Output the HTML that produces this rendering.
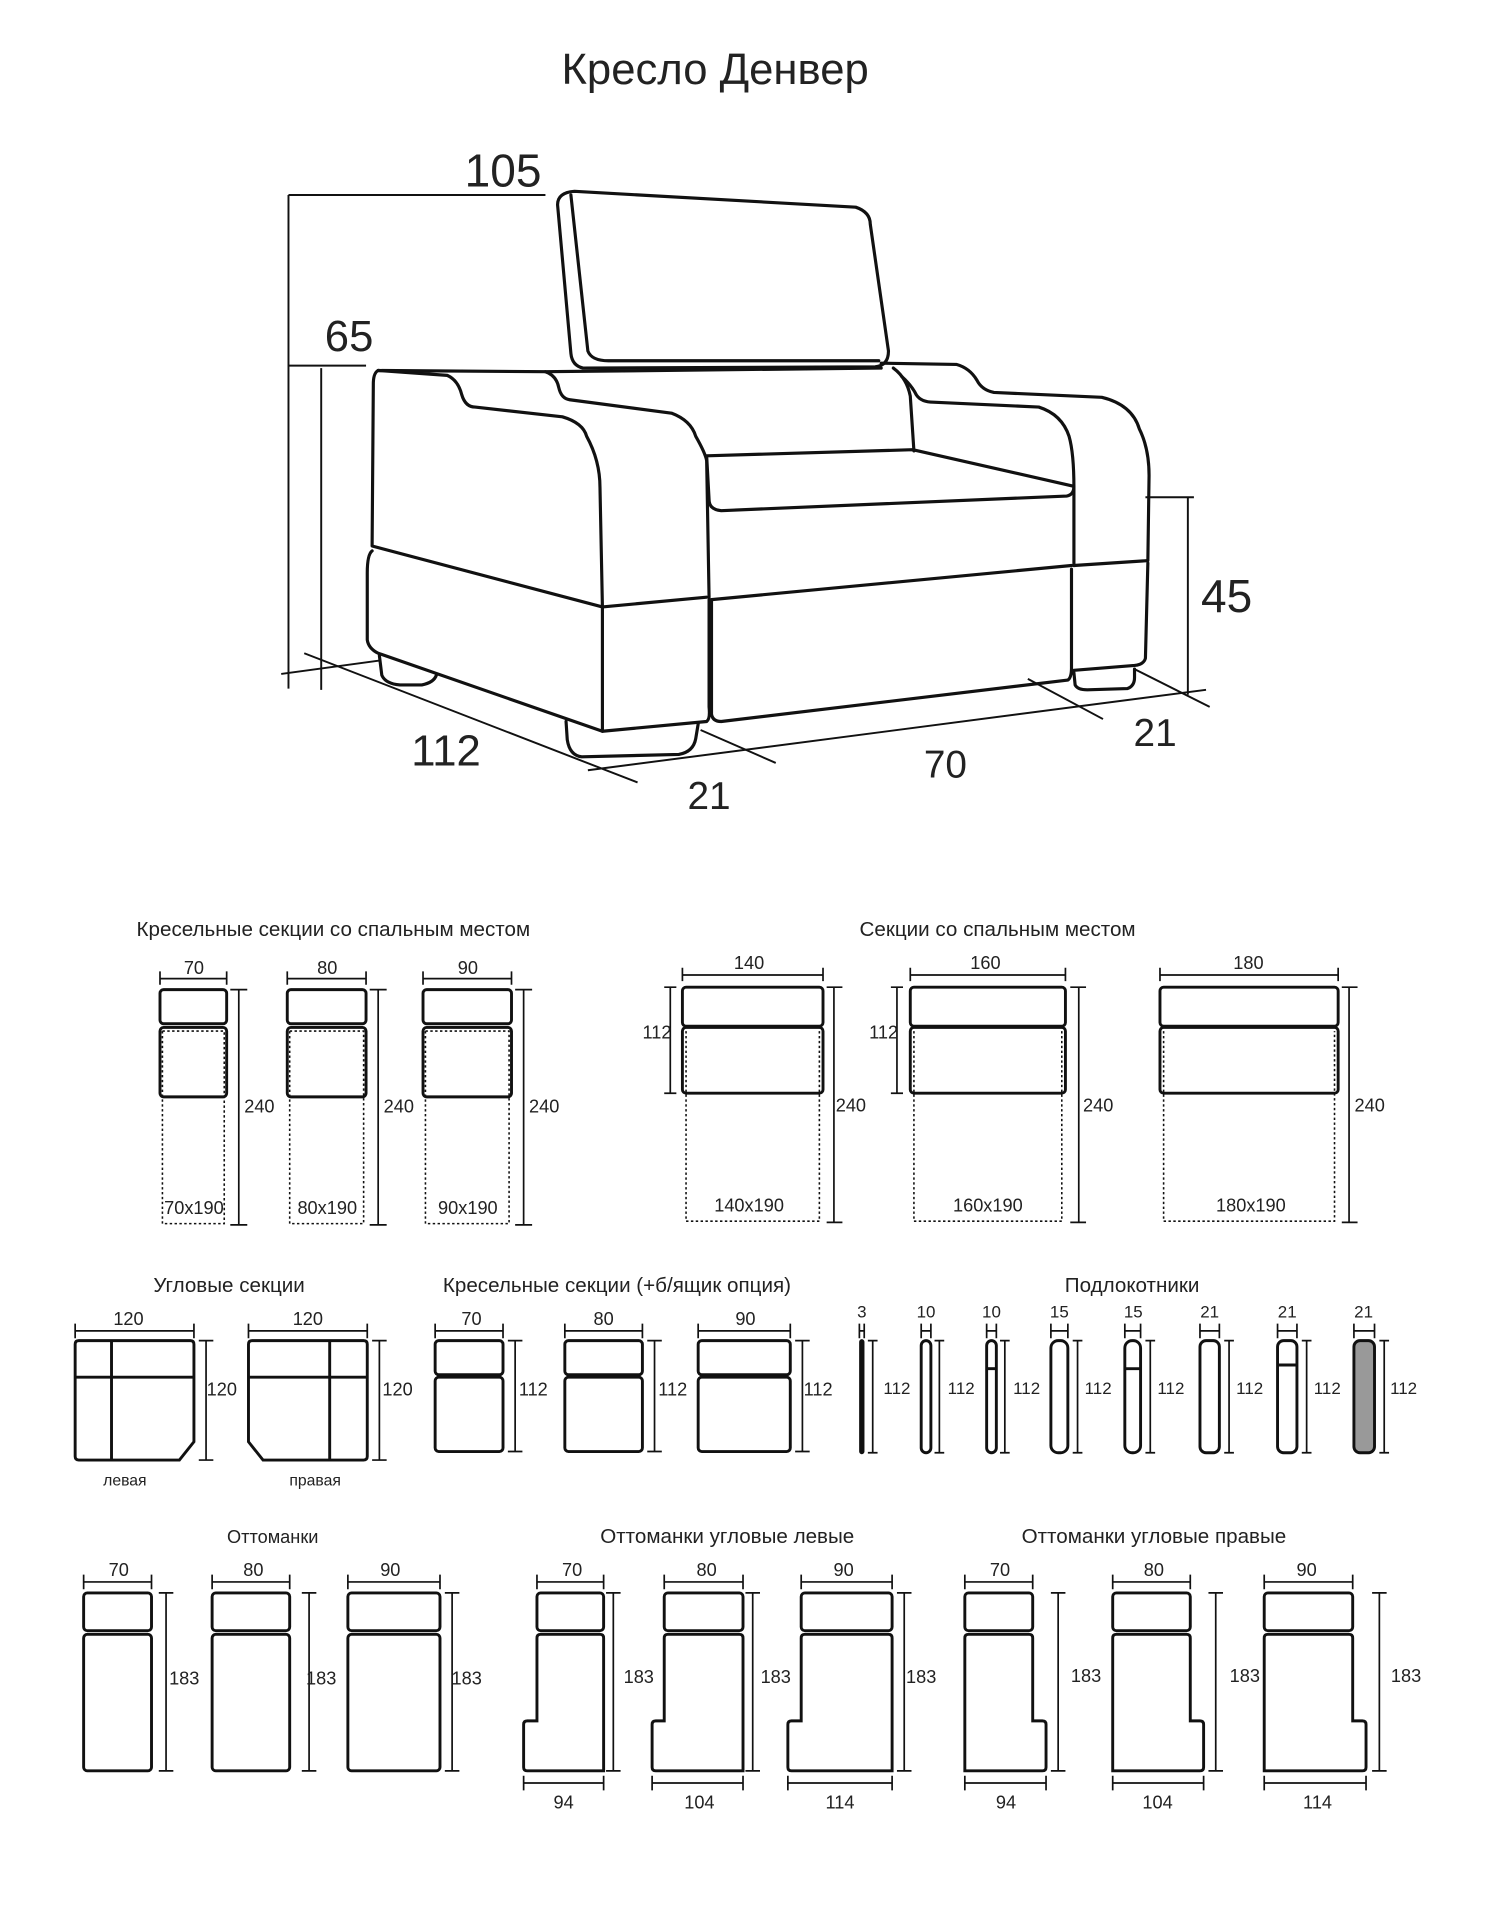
<!DOCTYPE html>
<html><head><meta charset="utf-8"><style>
html,body{margin:0;padding:0;background:#fff}
svg{display:block}
text{font-family:"Liberation Sans","DejaVu Sans",sans-serif;fill:#222}
</style></head><body>
<svg width="1503" height="1911" viewBox="0 0 1240 1568" preserveAspectRatio="none" xmlns="http://www.w3.org/2000/svg">
<g fill="none" stroke="#111" stroke-width="2.6" stroke-linejoin="round" stroke-linecap="round">
<path d="M474,157 L706,170 Q718,174 718,184 L733,288 Q733,300 722,301 L481,302 Q472,300 471,290 L460,168 Q460,158 474,157 Z"/>
<path d="M471,160 L485,288 Q488,296 502,296 L725,296"/>
<path d="M312,304 L369,308 Q378,312 381,324 Q384,334 392,334 L464,342 Q481,347 484,358 Q495,378 495,400 L497,498"/>
<path d="M312,304 Q308,306 308,315 L307,448 L497,498 L583,490"/>
<path d="M312,304 L450,305 Q459,308 461,318 Q463,327 470,328 L554,339 Q570,345 574,358 Q582,372 583,378 L585,490"/>
<path d="M450,305 L727,302"/>
<path d="M727,298 L789,299 Q800,302 806,312 Q810,320 820,322 L909,326 Q934,332 940,352 Q948,368 948,390 L947,460 L886,464"/>
<path d="M737,302 Q748,310 751,325 L754,370"/>
<path d="M744,309 Q752,316 756,324 Q760,330 770,330 L857,334 Q876,340 882,358 Q886,372 886,400 L886,464"/>
<path d="M583,374 L753,369 L886,399 Q886,406 880,407 L595,419 Q585,418 585,410 L583,374"/>
<path d="M587,492 L884,464"/>
<path d="M307,452 Q303,455 303,470 L303,525 Q304,532 312,536 L497,600 L583,592 Q586,590 585,580 L585,492"/>
<path d="M497,498 L497,600"/>
<path d="M587,492 L587,586 Q588,592 595,592 L881,558 Q884,556 884,548 L884,467"/>
<path d="M947,462 L945,540 Q944,545 936,546 L886,550"/>
<path d="M313,538 L315,554 Q318,561 330,562 L348,562 Q358,560 360,554"/>
<path d="M467,592 L468,607 Q470,620 480,621 L560,619 Q572,617 574,606 L576,594"/>
<path d="M886,552 L887,562 Q889,566 897,566 L930,565 Q936,563 936,556 L936,549"/>
</g>
<g fill="none" stroke="#111" stroke-width="1.6">
<line x1="238" y1="160" x2="238" y2="565"/><line x1="238" y1="160" x2="450" y2="160"/>
<line x1="238" y1="300" x2="302" y2="300"/><line x1="265" y1="302" x2="265" y2="566"/>
<line x1="945" y1="408" x2="985" y2="408"/><line x1="980" y1="408" x2="980" y2="570"/>
<line x1="232" y1="553" x2="313" y2="542"/>
<line x1="251" y1="536" x2="526" y2="642"/>
<line x1="485" y1="632" x2="995" y2="566"/>
<line x1="578" y1="599" x2="640" y2="626"/>
<line x1="848" y1="557" x2="910" y2="590"/>
<line x1="936" y1="549" x2="998" y2="580"/>
</g>
<text x="590" y="69" font-size="36" text-anchor="middle">Кресло  Денвер</text>
<text x="415" y="153" font-size="38" text-anchor="middle">105</text>
<text x="288" y="288" font-size="36" text-anchor="middle">65</text>
<text x="1012" y="502" font-size="38" text-anchor="middle">45</text>
<text x="368" y="628" font-size="36" text-anchor="middle">112</text>
<text x="585" y="664" font-size="32" text-anchor="middle">21</text>
<text x="780" y="638" font-size="32" text-anchor="middle">70</text>
<text x="953" y="612" font-size="32" text-anchor="middle">21</text>

<g font-size="17" text-anchor="middle">
<text x="275" y="768">Кресельные секции со спальным местом</text>
<text x="823" y="768">Секции со спальным местом</text>
<text x="189" y="1060">Угловые секции</text>
<text x="509" y="1060">Кресельные секции (+б/ящик опция)</text>
<text x="934" y="1060">Подлокотники</text>
<text x="225" y="1266" font-size="15">Оттоманки</text>
<text x="600" y="1266">Оттоманки угловые левые</text>
<text x="952" y="1266">Оттоманки угловые правые</text>
</g>

<g fill="none" stroke="#111">
<g stroke-width="2.4">
<rect x="132" y="812" width="55" height="28" rx="3"/><rect x="132" y="843" width="55" height="57" rx="3"/>
<rect x="237" y="812" width="65" height="28" rx="3"/><rect x="237" y="843" width="65" height="57" rx="3"/>
<rect x="349" y="812" width="73" height="28" rx="3"/><rect x="349" y="843" width="73" height="57" rx="3"/>
<rect x="563" y="810" width="116" height="32" rx="3"/><rect x="563" y="843" width="116" height="54" rx="3"/>
<rect x="751" y="810" width="128" height="32" rx="3"/><rect x="751" y="843" width="128" height="54" rx="3"/>
<rect x="957" y="810" width="147" height="32" rx="3"/><rect x="957" y="843" width="147" height="54" rx="3"/>
</g>
<g stroke-width="1.3" stroke-dasharray="2,2">
<path d="M134,846 V1004 H185 V846 H134"/>
<path d="M239,846 V1004 H300 V846 H239"/>
<path d="M351,846 V1004 H420 V846 H351"/>
<path d="M566,846 V1002 H676 V846"/>
<path d="M754,846 V1002 H876 V846"/>
<path d="M960,846 V1002 H1101 V846"/>
</g>
<g stroke-width="1.4">
<path d="M132,797 V808 M187,797 V808 M132,803 H187"/>
<path d="M237,797 V808 M302,797 V808 M237,803 H302"/>
<path d="M349,797 V808 M422,797 V808 M349,803 H422"/>
<path d="M190,812 H204 M197,812 V1005 M190,1005 H204"/>
<path d="M305,812 H319 M312,812 V1005 M305,1005 H319"/>
<path d="M425,812 H439 M432,812 V1005 M425,1005 H439"/>
<path d="M563,794 V805 M679,794 V805 M563,800 H679"/>
<path d="M751,794 V805 M879,794 V805 M751,800 H879"/>
<path d="M957,794 V805 M1104,794 V805 M957,800 H1104"/>
<path d="M548,810 H558 M553,810 V897 M548,897 H558"/>
<path d="M735,810 H745 M740,810 V897 M735,897 H745"/>
<path d="M682,810 H695 M688,810 V1003 M682,1003 H695"/>
<path d="M883,810 H896 M890,810 V1003 M883,1003 H896"/>
<path d="M1107,810 H1120 M1113,810 V1003 M1107,1003 H1120"/>
</g>
</g>
<g font-size="15" text-anchor="middle">
<text x="160" y="799">70</text><text x="270" y="799">80</text><text x="386" y="799">90</text>
<text x="214" y="913">240</text><text x="329" y="913">240</text><text x="449" y="913">240</text>
<text x="160" y="996">70x190</text><text x="270" y="996">80x190</text><text x="386" y="996">90x190</text>
<text x="618" y="795">140</text><text x="813" y="795">160</text><text x="1030" y="795">180</text>
<text x="542" y="852">112</text><text x="729" y="852">112</text>
<text x="702" y="912">240</text><text x="906" y="912">240</text><text x="1130" y="912">240</text>
<text x="618" y="994">140x190</text><text x="815" y="994">160x190</text><text x="1032" y="994">180x190</text>
</g>

<g fill="none" stroke="#111">
<g stroke-width="2.4">
<path d="M65,1100 H157 Q160,1100 160,1103 V1183 L148,1198 H65 Q62,1198 62,1195 V1103 Q62,1100 65,1100 Z"/>
<path d="M92,1100 V1198 M92,1130 H160 M62,1130 H92"/>
<path d="M208,1100 H300 Q303,1100 303,1103 V1195 Q303,1198 300,1198 H217 L205,1183 V1103 Q205,1100 208,1100 Z"/>
<path d="M272,1100 V1198 M205,1130 H272 M272,1130 H303"/>
<rect x="359" y="1100" width="56" height="28" rx="3"/><rect x="359" y="1130" width="56" height="61" rx="3"/>
<rect x="466" y="1100" width="64" height="28" rx="3"/><rect x="466" y="1130" width="64" height="61" rx="3"/>
<rect x="576" y="1100" width="76" height="28" rx="3"/><rect x="576" y="1130" width="76" height="61" rx="3"/>
<rect x="710" y="1100" width="2" height="92" rx="1"/>
<rect x="760" y="1100" width="8" height="92" rx="4"/>
<rect x="814" y="1100" width="8" height="92" rx="4"/><path d="M814,1123 H822"/>
<rect x="867" y="1100" width="14" height="92" rx="6"/>
<rect x="928" y="1100" width="13" height="92" rx="6"/><path d="M928,1123 H941"/>
<rect x="990" y="1100" width="16" height="92" rx="5"/>
<rect x="1054" y="1100" width="16" height="92" rx="5"/><path d="M1054,1120 H1070"/>
<rect x="1117" y="1100" width="17" height="92" rx="5" fill="#999"/>
</g>
<g stroke-width="1.4">
<path d="M62,1086 V1098 M160,1086 V1098 M62,1092 H160"/>
<path d="M205,1086 V1098 M303,1086 V1098 M205,1092 H303"/>
<path d="M164,1100 H176 M170,1100 V1198 M164,1198 H176"/>
<path d="M307,1100 H319 M313,1100 V1198 M307,1198 H319"/>
<path d="M359,1086 V1098 M415,1086 V1098 M359,1092 H415"/>
<path d="M466,1086 V1098 M530,1086 V1098 M466,1092 H530"/>
<path d="M576,1086 V1098 M652,1086 V1098 M576,1092 H652"/>
<path d="M419,1100 H431 M425,1100 V1191 M419,1191 H431"/>
<path d="M534,1100 H546 M540,1100 V1191 M534,1191 H546"/>
<path d="M656,1100 H668 M662,1100 V1191 M656,1191 H668"/>
<path d="M709,1086 V1098 M713,1086 V1098 M709,1092 H713 M716,1100 H724 M720,1100 V1192 M716,1192 H724"/>
<path d="M760,1086 V1098 M768,1086 V1098 M760,1092 H768 M771,1100 H779 M775,1100 V1192 M771,1192 H779"/>
<path d="M814,1086 V1098 M822,1086 V1098 M814,1092 H822 M825,1100 H833 M829,1100 V1192 M825,1192 H833"/>
<path d="M867,1086 V1098 M881,1086 V1098 M867,1092 H881 M885,1100 H893 M889,1100 V1192 M885,1192 H893"/>
<path d="M928,1086 V1098 M941,1086 V1098 M928,1092 H941 M945,1100 H953 M949,1100 V1192 M945,1192 H953"/>
<path d="M990,1086 V1098 M1006,1086 V1098 M990,1092 H1006 M1010,1100 H1018 M1014,1100 V1192 M1010,1192 H1018"/>
<path d="M1054,1086 V1098 M1070,1086 V1098 M1054,1092 H1070 M1074,1100 H1082 M1078,1100 V1192 M1074,1192 H1082"/>
<path d="M1117,1086 V1098 M1134,1086 V1098 M1117,1092 H1134 M1138,1100 H1146 M1142,1100 V1192 M1138,1192 H1146"/>
</g>
</g>
<g font-size="15" text-anchor="middle">
<text x="106" y="1087">120</text><text x="254" y="1087">120</text>
<text x="183" y="1145">120</text><text x="328" y="1145">120</text>
<text x="103" y="1219" font-size="13">левая</text><text x="260" y="1219" font-size="13">правая</text>
<text x="389" y="1087">70</text><text x="498" y="1087">80</text><text x="615" y="1087">90</text>
<text x="440" y="1145">112</text><text x="555" y="1145">112</text><text x="675" y="1145">112</text>
<g font-size="14">
<text x="711" y="1081">3</text><text x="764" y="1081">10</text><text x="818" y="1081">10</text><text x="874" y="1081">15</text>
<text x="935" y="1081">15</text><text x="998" y="1081">21</text><text x="1062" y="1081">21</text><text x="1125" y="1081">21</text>
<text x="740" y="1144">112</text><text x="793" y="1144">112</text><text x="847" y="1144">112</text><text x="906" y="1144">112</text>
<text x="966" y="1144">112</text><text x="1031" y="1144">112</text><text x="1095" y="1144">112</text><text x="1158" y="1144">112</text>
</g>
</g>

<g fill="none" stroke="#111">
<g stroke-width="2.4">
<rect x="69" y="1307" width="56" height="31" rx="3"/><rect x="69" y="1341" width="56" height="112" rx="3"/>
<rect x="175" y="1307" width="64" height="31" rx="3"/><rect x="175" y="1341" width="64" height="112" rx="3"/>
<rect x="287" y="1307" width="76" height="31" rx="3"/><rect x="287" y="1341" width="76" height="112" rx="3"/>
<rect x="443" y="1307" width="55" height="31" rx="3"/><path d="M446,1341 H495 Q498,1341 498,1344 V1453 H435 Q432,1453 432,1450 V1415 Q432,1412 435,1412 H443 V1344 Q443,1341 446,1341 Z"/>
<rect x="548" y="1307" width="65" height="31" rx="3"/><path d="M551,1341 H610 Q613,1341 613,1344 V1453 H541 Q538,1453 538,1450 V1415 Q538,1412 541,1412 H548 V1344 Q548,1341 551,1341 Z"/>
<rect x="661" y="1307" width="75" height="31" rx="3"/><path d="M664,1341 H733 Q736,1341 736,1344 V1453 H653 Q650,1453 650,1450 V1415 Q650,1412 653,1412 H661 V1344 Q661,1341 664,1341 Z"/>
<rect x="796" y="1307" width="56" height="31" rx="3"/><path d="M799,1341 H849 Q852,1341 852,1344 V1412 H860 Q863,1412 863,1415 V1450 Q863,1453 860,1453 H796 V1344 Q796,1341 799,1341 Z"/>
<rect x="918" y="1307" width="64" height="31" rx="3"/><path d="M921,1341 H979 Q982,1341 982,1344 V1412 H990 Q993,1412 993,1415 V1450 Q993,1453 990,1453 H918 V1344 Q918,1341 921,1341 Z"/>
<rect x="1043" y="1307" width="73" height="31" rx="3"/><path d="M1046,1341 H1113 Q1116,1341 1116,1344 V1412 H1124 Q1127,1412 1127,1415 V1450 Q1127,1453 1124,1453 H1043 V1344 Q1043,1341 1046,1341 Z"/>
</g>
<g stroke-width="1.4">
<path d="M69,1292 V1304 M125,1292 V1304 M69,1298 H125 M131,1307 H143 M137,1307 V1453 M131,1453 H143"/>
<path d="M175,1292 V1304 M239,1292 V1304 M175,1298 H239 M249,1307 H261 M255,1307 V1453 M249,1453 H261"/>
<path d="M287,1292 V1304 M363,1292 V1304 M287,1298 H363 M367,1307 H379 M373,1307 V1453 M367,1453 H379"/>
<path d="M443,1292 V1304 M498,1292 V1304 M443,1298 H498 M500,1307 H512 M506,1307 V1453 M500,1453 H512"/>
<path d="M548,1292 V1304 M613,1292 V1304 M548,1298 H613 M615,1307 H627 M621,1307 V1453 M615,1453 H627"/>
<path d="M661,1292 V1304 M736,1292 V1304 M661,1298 H736 M740,1307 H752 M746,1307 V1453 M740,1453 H752"/>
<path d="M796,1292 V1304 M852,1292 V1304 M796,1298 H852 M867,1307 H879 M873,1307 V1453 M867,1453 H879"/>
<path d="M918,1292 V1304 M982,1292 V1304 M918,1298 H982 M997,1307 H1009 M1003,1307 V1453 M997,1453 H1009"/>
<path d="M1043,1292 V1304 M1116,1292 V1304 M1043,1298 H1116 M1132,1307 H1144 M1138,1307 V1453 M1132,1453 H1144"/>
<path d="M432,1457 V1469 M498,1457 V1469 M432,1463 H498"/>
<path d="M538,1457 V1469 M613,1457 V1469 M538,1463 H613"/>
<path d="M650,1457 V1469 M736,1457 V1469 M650,1463 H736"/>
<path d="M796,1457 V1469 M863,1457 V1469 M796,1463 H863"/>
<path d="M918,1457 V1469 M993,1457 V1469 M918,1463 H993"/>
<path d="M1043,1457 V1469 M1127,1457 V1469 M1043,1463 H1127"/>
</g>
</g>
<g font-size="15" text-anchor="middle">
<text x="98" y="1293">70</text><text x="209" y="1293">80</text><text x="322" y="1293">90</text>
<text x="152" y="1382">183</text><text x="265" y="1382">183</text><text x="385" y="1382">183</text>
<text x="472" y="1293">70</text><text x="583" y="1293">80</text><text x="696" y="1293">90</text>
<text x="527" y="1381">183</text><text x="640" y="1381">183</text><text x="760" y="1381">183</text>
<text x="465" y="1484">94</text><text x="577" y="1484">104</text><text x="693" y="1484">114</text>
<text x="825" y="1293">70</text><text x="952" y="1293">80</text><text x="1078" y="1293">90</text>
<text x="896" y="1380">183</text><text x="1027" y="1380">183</text><text x="1160" y="1380">183</text>
<text x="830" y="1484">94</text><text x="955" y="1484">104</text><text x="1087" y="1484">114</text>
</g>
</svg>
</body></html>
